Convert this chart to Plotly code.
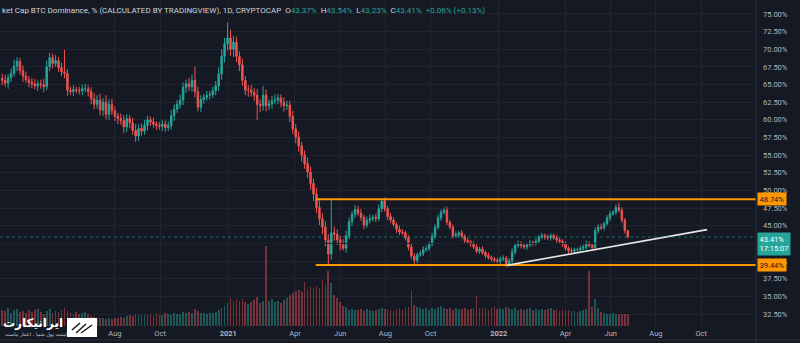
import pandas as pd
import plotly.graph_objects as go

# ---------------- data (4-day candles) ----------------
last_date = "2022-06-24"
first_open = 65.9
closes = [
    65.6, 65.2, 66.0, 66.6, 67.6, 68.3, 67.0, 66.2, 65.7, 65.3,
    65.1, 64.8, 65.1, 65.0, 64.7, 67.5, 68.8, 68.0, 68.4, 67.4,
    66.8, 66.6, 64.2, 64.0, 64.3, 64.2, 64.1, 64.4, 64.4, 64.0,
    63.0, 62.2, 62.8, 61.4, 62.5, 60.8, 62.2, 61.3, 60.5, 60.2,
    59.9, 59.0, 60.2, 59.6, 58.5, 57.7, 58.8, 58.4, 59.2, 60.0,
    59.7, 59.4, 59.2, 59.1, 59.4, 58.9, 59.2, 60.6, 61.5, 62.2,
    62.8, 64.6, 65.1, 64.7, 65.6, 64.0, 61.8, 62.9, 63.2, 63.5,
    63.6, 64.1, 64.8, 66.5, 69.0, 70.8, 71.6, 70.0, 71.0, 69.0,
    67.8, 65.6, 64.2, 64.2, 63.9, 63.5, 62.2, 62.0, 63.5, 62.0,
    62.3, 62.7, 62.8, 63.1, 62.5, 62.0, 62.1, 60.5, 58.7, 57.6,
    56.3, 55.0, 53.8, 52.6, 51.0, 49.5, 47.6, 46.0, 44.8, 43.0,
    41.0, 44.0, 43.8, 43.0, 42.3, 41.8, 43.6, 45.6, 46.6, 47.3,
    46.8, 46.2, 45.1, 45.8, 46.0, 46.2, 46.0, 47.4, 48.5, 47.4,
    46.3, 45.8, 45.2, 44.5, 44.1, 44.0, 43.3, 42.0, 40.7, 40.1,
    40.9, 41.1, 41.6, 41.8, 42.4, 43.5, 44.8, 46.1, 46.9, 47.2,
    45.5, 44.8, 43.6, 43.7, 44.0, 43.5, 42.9, 42.7, 42.4, 42.0,
    41.4, 41.7, 41.2, 40.8, 40.5, 40.3, 40.1, 40.0, 40.3, 40.4,
    39.6, 40.0, 41.3, 42.2, 42.5, 42.2, 42.0, 42.3, 42.6, 42.5,
    42.8, 43.4, 43.6, 43.4, 43.3, 43.6, 43.3, 43.0, 42.8, 42.4,
    41.8, 41.5, 41.4, 41.6, 41.6, 41.8, 42.0, 42.4, 42.2, 41.9,
    44.3, 44.8, 44.7, 45.3, 46.1, 46.7, 46.9, 47.6, 47.2, 45.8,
    44.3, 43.41,
]
wick_up = [
    .6, .8, .5, .7, .9, .6, .5, .7, .6, .5,
    .6, .7, .5, .6, .8, .9, .7, .6, .8, .5,
    .7, 3.1, .6, .5, .6, .4, .5, .6, .7, .5,
    .6, .8, .7, .9, .6, 1.0, .7, .8, .6, .5,
    .7, .8, .6, .5, .7, .9, .6, .7, .8, .6,
    .5, .6, .4, .5, .6, .5, .6, .8, .7, .6,
    .8, .7, .6, .9, .8, 1.9, .7, .6, .5, .6,
    .5, .6, .7, .9, 1.0, .8, 2.2, 1.2, .9, .8,
    .7, .9, .6, .7, .8, .6, .9, .7, 1.3, .8,
    .6, .7, .8, .6, .5, .7, .6, .6, .8, .7,
    .8, .6, .7, .9, .8, .7, .9, 1.0, .8, .9,
    .8, 4.7, .9, .7, .6, .8, .7, .6, .5, .6,
    .5, .6, .4, .5, .6, .4, .5, .6, .3, .5,
    .4, .5, .4, .3, .5, .4, .3, .4, .5, .4,
    .3, .4, .5, .4, .3, .5, .4, .5, .4, .4,
    .5, .3, .4, .5, .3, .4, .3, .4, .3, .4,
    .4, .3, .4, .3, .4, .3, .3, .4, .3, .4,
    .3, .4, .5, .3, .4, .3, .4, .3, .4, .3,
    .4, .3, .4, .3, .4, .3, .3, .4, .3, .3,
    .4, .3, .4, .3, .3, .4, .3, .5, .4, .3,
    .5, .4, .5, .3, .4, .4, .3, .4, .7, .4,
    .3, .13,
]
wick_dn = [
    .7, .5, .8, .6, .5, .7, .6, .8, .5, .7,
    .6, .5, .7, .6, .8, .5, .6, .7, .5, .6,
    .6, .7, .8, .5, .6, .4, .5, .6, .5, .7,
    .8, .7, .6, .8, .9, .7, .8, .6, .7, .8,
    .6, .9, .7, .8, .6, .8, .7, .6, .5, .7,
    .6, .5, .6, .5, .7, .6, .5, .6, .7, .5,
    .6, .7, .8, .6, .7, .8, .6, .7, .6, .5,
    .6, .5, .6, .7, .8, .9, 1.0, .9, 1.1, .8,
    .9, .8, .7, .9, .6, .8, 2.2, .9, .7, .8,
    .6, .7, .5, .6, .7, .8, .6, .8, .7, .9,
    .8, .9, .7, .8, .9, 1.0, .8, .9, 1.0, .9,
    1.4, .8, .9, .7, .8, .3, .6, .5, .6, .5,
    .4, .5, .6, .4, .5, .4, .5, .4, .5, .4,
    .5, .4, .3, .5, .4, .3, .4, .5, .4, .65,
    .4, .3, .4, .3, .4, .3, .4, .3, .4, .3,
    .4, .3, .4, .3, .4, .3, .4, .3, .4, .3,
    .3, .4, .3, .4, .3, .4, .3, .3, .4, .3,
    .5, .4, .3, .4, .3, .4, .3, .4, .3, .4,
    .3, .4, .3, .4, .3, .4, .3, .4, .3, .4,
    .3, .4, .3, .4, .3, .4, .3, .4, .3, .4,
    .3, .4, .3, .4, .3, .4, .3, .4, .3, .4,
    .4, .18,
]
volumes = [
    5.0, 4.5, 5.5, 4.0, 4.8, 5.2, 4.2, 4.6, 3.9, 5.0,
    4.4, 4.8, 5.1, 4.2, 3.8, 4.5, 5.2, 4.0, 4.6, 4.3,
    4.9, 5.5, 4.6, 4.1, 3.8, 4.2, 3.6, 3.9, 4.4, 3.7,
    3.2, 2.8, 2.5, 2.4, 2.6, 2.2, 2.5, 2.3, 2.6, 2.4,
    2.7, 2.5, 3.0, 3.4, 3.2, 3.6, 3.4, 3.8, 3.3, 3.5,
    3.6, 3.2, 3.8, 3.5, 3.3, 3.9, 3.6, 3.4, 4.0, 3.7,
    3.8, 4.2, 3.9, 4.4, 4.0, 5.2, 4.6, 3.9, 4.0, 3.8,
    4.1, 3.9, 4.2, 4.8, 5.5, 6.2, 7.0, 8.5, 7.6, 8.2,
    7.8, 8.4, 7.5, 6.9, 7.3, 8.0, 8.8, 7.2, 7.6, 24.5,
    7.8, 8.2, 7.4, 7.7, 7.1, 7.9, 8.5, 9.4, 10.2, 10.8,
    11.0, 10.5, 13.5, 11.4, 12.0, 11.6, 12.4, 11.8, 14.2, 12.5,
    17.0, 13.2, 9.5, 8.6, 7.4, 6.2, 5.8, 5.0, 5.3, 4.9,
    4.8, 5.1, 4.7, 5.2, 4.9, 4.6, 5.0, 5.3, 5.6, 5.1,
    4.8, 5.0, 4.7, 5.2, 5.5, 5.0, 5.4, 6.0, 10.8, 6.5,
    6.0, 5.6, 5.2, 5.4, 5.0, 5.6, 5.2, 5.8, 6.2, 5.5,
    5.2, 5.6, 5.0, 5.4, 5.1, 5.3, 5.5, 5.0, 5.2, 5.4,
    9.2, 5.6, 5.2, 5.5, 5.0, 5.4, 5.8, 5.2, 5.6, 5.3,
    5.7, 5.4, 5.2, 5.6, 5.0, 5.3, 4.9, 5.2, 5.4, 5.0,
    5.3, 5.0, 5.2, 4.8, 5.1, 5.4, 4.9, 5.2, 4.7, 4.9,
    4.6, 4.8, 4.5, 4.7, 4.4, 4.6, 5.0, 5.2, 17.0, 6.0,
    8.2, 5.5, 4.2, 3.9, 3.8, 3.7, 3.9, 3.6, 3.8, 3.7,
    3.6, 3.7,
]

# 42.50% sits under the live-price label in the reference, so it is not drawn
price_ticks = [32.5, 35, 37.5, 40, 45, 47.5, 50, 52.5, 55, 57.5, 60,
               62.5, 65, 67.5, 70, 72.5, 75]
price_tick_text = ["32.50%", "35.00%", "37.50%", "40.00%", "45.00%",
                   "47.50%", "50.00%", "52.50%", "55.00%", "57.50%", "60.00%",
                   "62.50%", "65.00%", "67.50%", "70.00%", "72.50%", "75.00%"]
grid_ticks = [32.5, 35, 37.5, 40, 42.5, 45, 47.5, 50, 52.5, 55, 57.5, 60,
              62.5, 65, 67.5, 70, 72.5, 75]
time_ticks = ["2020-08-01", "2020-10-01", "2021-01-01", "2021-04-01", "2021-06-01",
              "2021-08-01", "2021-10-01", "2022-01-01", "2022-04-01", "2022-06-01",
              "2022-08-01", "2022-10-01"]
time_tick_text = ["Aug", "Oct", "<b>2021</b>", "Apr", "Jun", "Aug", "Oct",
                  "<b>2022</b>", "Apr", "Jun", "Aug", "Oct"]

resistance = 48.74
support = 39.44
levels_start = "2021-04-29"
trend_dates = ["2022-01-12", "2022-10-09"]
trend_values = [39.40, 44.45]
last_price = 43.41
x_range = ["2020-02-28", "2022-12-14"]
y_range = [30.80, 76.98]

# ---------------- build ----------------
n = len(closes)
dates = pd.date_range(end=last_date, periods=n, freq="4D")
opens = [first_open] + closes[:-1]
highs = [max(o, c) + w for o, c, w in zip(opens, closes, wick_up)]
lows = [min(o, c) - w for o, c, w in zip(opens, closes, wick_dn)]

UP = "#26a69a"
DN = "#ef5350"
BG = "#151924"
GRID = "#1f2430"
TXT = "#b2b5be"

vol_colors = ["rgba(38,166,154,0.45)" if c >= o else "rgba(239,83,80,0.45)"
              for o, c in zip(opens, closes)]

fig = go.Figure()
fig.add_trace(go.Bar(x=dates, y=volumes, marker_color=vol_colors,
                     marker_line_width=0, width=2.3 * 86400000, yaxis="y",
                     showlegend=False, hoverinfo="skip"))
fig.add_trace(go.Candlestick(
    x=dates, open=opens, high=highs, low=lows, close=closes, yaxis="y2",
    increasing=dict(line=dict(color=UP, width=1), fillcolor=UP),
    decreasing=dict(line=dict(color=DN, width=1), fillcolor=DN),
    whiskerwidth=0, showlegend=False))

# horizontal levels and trend line
for lvl in (resistance, support):
    fig.add_trace(go.Scatter(x=[levels_start, x_range[1]], y=[lvl, lvl],
                             mode="lines", line=dict(color="#ff9800", width=2),
                             yaxis="y2", showlegend=False, hoverinfo="skip"))
fig.add_trace(go.Scatter(x=trend_dates, y=trend_values, mode="lines",
                         line=dict(color="#e6e6e6", width=1.6), yaxis="y2",
                         showlegend=False, hoverinfo="skip"))
fig.add_trace(go.Scatter(x=x_range, y=[last_price, last_price], mode="lines",
                         line=dict(color="rgba(38,166,154,0.55)", width=1, dash="dot"),
                         yaxis="y2", showlegend=False, hoverinfo="skip"))

fig.update_layout(
    width=800, height=343,
    margin=dict(l=0, r=44, t=0, b=17),
    paper_bgcolor=BG, plot_bgcolor=BG,
    font=dict(family="Roboto, DejaVu Sans, sans-serif", color=TXT, size=8),
    xaxis=dict(type="date", range=x_range, tickvals=time_ticks,
               ticktext=time_tick_text, showgrid=True, gridcolor=GRID,
               gridwidth=1, zeroline=False, showline=False, ticks="",
               tickfont=dict(size=7.5, color=TXT), rangeslider=dict(visible=False),
               ticklabelstandoff=1),
    yaxis=dict(range=[0, 100.3], visible=False, showgrid=False),
    yaxis2=dict(overlaying="y", side="right", range=y_range,
                tickvals=price_ticks, ticktext=price_tick_text,
                showgrid=True, gridcolor=GRID, zeroline=False, showline=False,
                ticks="", tickfont=dict(size=7.5, color=TXT),
                ticklabelstandoff=6),
    bargap=0,
)

H = 326.0
W = 756.0


def py(px):
    return (H - px) / H


def pxx(px):
    return px / W


# horizontal grid line for the hidden 42.50% label
fig.add_trace(go.Scatter(x=x_range, y=[42.5, 42.5], mode="lines",
                         line=dict(color=GRID, width=1), yaxis="y2",
                         showlegend=False, hoverinfo="skip"))
fig.data = (fig.data[-1],) + fig.data[:-1]

# frame lines
fig.add_shape(type="line", xref="paper", yref="paper", x0=1, x1=1,
              y0=py(343), y1=1, line=dict(color="#2a2e39", width=1))
fig.add_shape(type="line", xref="paper", yref="paper", x0=0, x1=800 / W,
              y0=py(340), y1=py(340), line=dict(color="#2a2e39", width=1))

# header
hdr = ("ket Cap BTC Dominance, % (CALCULATED BY TRADINGVIEW), 1D, CRYPTOCAP  "
       "O<span style='color:#26a69a'>43.37%</span>  "
       "H<span style='color:#26a69a'>43.54%</span>  "
       "L<span style='color:#26a69a'>43.23%</span>  "
       "C<span style='color:#26a69a'>43.41%</span>  "
       "<span style='color:#26a69a'>+0.06% (+0.13%)</span>")
fig.add_annotation(text=hdr, xref="paper", yref="paper", x=0, y=py(10),
                   xanchor="left", yanchor="middle", showarrow=False,
                   font=dict(size=8, color="#d1d4dc"))

# price labels on the scale
fig.add_annotation(text="48.74%", xref="paper", yref="y2", x=1, y=resistance,
                   xanchor="left", yanchor="middle", showarrow=False, xshift=1,
                   bgcolor="#ff9800", borderpad=1.5,
                   font=dict(size=7.5, color="#131722"))
fig.add_annotation(text="39.44%", xref="paper", yref="y2", x=1, y=support,
                   xanchor="left", yanchor="middle", showarrow=False, xshift=1,
                   bgcolor="#ff9800", borderpad=1.5,
                   font=dict(size=7.5, color="#131722"))
fig.add_annotation(text="43.41%<br>17:15:07", xref="paper", yref="y2", x=1,
                   y=last_price, xanchor="left", yanchor="top", yshift=5,
                   showarrow=False, xshift=1, bgcolor="#26a69a", borderpad=1.5,
                   align="left", font=dict(size=7.5, color="#ffffff"))

# logo
fig.add_shape(type="rect", xref="paper", yref="paper", x0=pxx(67), x1=pxx(97),
              y0=py(337), y1=py(318), fillcolor="#ffffff", line=dict(width=0),
              layer="above")
for (a, b, c, d) in [(72, 330, 80, 323), (76, 333, 86, 324), (81, 333, 92, 325)]:
    fig.add_shape(type="line", xref="paper", yref="paper", x0=pxx(a), x1=pxx(c),
                  y0=py(b), y1=py(d), line=dict(color="#151924", width=1.5),
                  layer="above")
fig.add_annotation(text="<b>ایرانیکارت</b>", xref="paper", yref="paper",
                   x=pxx(33), y=py(323), xanchor="center", yanchor="middle",
                   showarrow=False, font=dict(size=12, color="#ffffff",
                                              family="DejaVu Sans"))
fig.add_annotation(text="امنیت پول شما ، اعتبار ماست", xref="paper", yref="paper",
                   x=pxx(36), y=py(334), xanchor="center", yanchor="middle",
                   showarrow=False, font=dict(size=5, color="#c8c8c8",
                                              family="DejaVu Sans"))

fig.write_html("out.html")
